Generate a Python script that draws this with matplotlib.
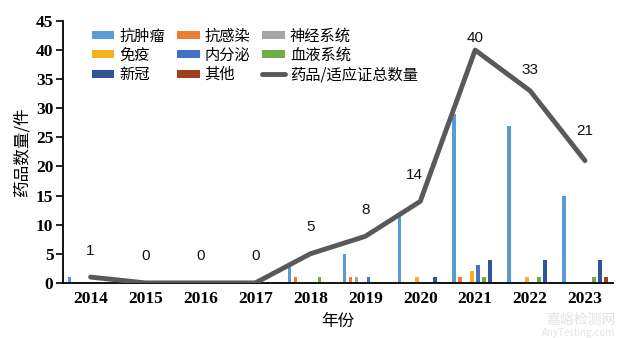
import numpy as np
import matplotlib
matplotlib.use("Agg")
import matplotlib.pyplot as plt
from matplotlib.font_manager import FontProperties

plt.rcParams["font.family"] = ["Noto Sans CJK SC", "DejaVu Sans"]

years = ["2014", "2015", "2016", "2017", "2018", "2019", "2020", "2021", "2022", "2023"]

series_names = ["抗肿瘤", "抗感染", "神经系统", "免疫", "内分泌", "血液系统", "新冠", "其他"]
series_colors = ["#5b9bd5", "#ed7d31", "#a5a5a5", "#f5b21f", "#4472c4", "#70ad47", "#2f5597", "#9e3f1e"]

antitumor   = [1, 0, 0, 0, 3, 5, 12, 29, 27, 15]
antiinfect  = [0, 0, 0, 0, 1, 1, 0, 1, 0, 0]
neuro       = [0, 0, 0, 0, 0, 1, 0, 0, 0, 0]
immune      = [0, 0, 0, 0, 0, 0, 1, 2, 1, 0]
endocrine   = [0, 0, 0, 0, 0, 1, 0, 3, 0, 0]
blood       = [0, 0, 0, 0, 1, 0, 0, 1, 1, 1]
covid       = [0, 0, 0, 0, 0, 0, 1, 4, 4, 4]
other       = [0, 0, 0, 0, 0, 0, 0, 0, 0, 1]
total       = [1, 0, 0, 0, 5, 8, 14, 40, 33, 21]

series = [antitumor, antiinfect, neuro, immune, endocrine, blood, covid, other]

LINE = "#595959"
tick_font = FontProperties(family="Liberation Serif", weight="bold", size=12.5)

fig = plt.figure(figsize=(6.25, 3.38), dpi=100)
ax = fig.add_axes([0.101, 0.163, 0.879, 0.775])

x = np.arange(len(years))
step = 0.109
width = 0.064
handles = []
for k, (name, vals, col) in enumerate(zip(series_names, series, series_colors)):
    b = ax.bar(x + (k - 3.5) * step, vals, width=width, color=col, label=name)
    handles.append(b)

ln, = ax.plot(x, total, color=LINE, linewidth=3.5, solid_capstyle="round",
              label="药品/适应证总数量", zorder=5)
handles.append(ln)

# data labels above the total line
label_gap = {40: 4, 33: 10, 21: 16}
for xi, v in zip(x, total):
    dx = -4 if v == 14 else 0
    ax.annotate(str(v), xy=(xi, v), xytext=(dx, label_gap.get(v, 14)),
                textcoords="offset points", ha="center", va="bottom",
                fontsize=11, family="Liberation Sans", color="#111111")

ax.set_xlim(-0.5, 9.5)
ax.set_ylim(0, 45)
ax.set_yticks(range(0, 46, 5))
ax.set_xticks(x)
ax.set_xticklabels(years)
for t in ax.get_xticklabels() + ax.get_yticklabels():
    t.set_fontproperties(tick_font)

ax.tick_params(axis="x", length=0, pad=6)
ax.tick_params(axis="y", length=5, width=1.2, direction="out", pad=2)
for s in ["top", "right"]:
    ax.spines[s].set_visible(False)
ax.spines["left"].set_linewidth(1.3)
ax.spines["bottom"].set_linewidth(1.3)

ax.set_ylabel("药品数量/件", fontsize=12, labelpad=4)
ax.set_xlabel("年份", fontsize=12, labelpad=4)

order = [0, 3, 6, 1, 4, 7, 2, 5, 8]
ax.legend([handles[i] for i in order],
          [handles[i].get_label() for i in order],
          ncol=3, loc="upper left", bbox_to_anchor=(0.035, 1.01),
          frameon=False, fontsize=11, handlelength=1.5, handleheight=0.45,
          handletextpad=0.3, columnspacing=0.8, labelspacing=0.15,
          borderaxespad=0.2)

fig.text(0.985, 0.055, "嘉峪检测网", ha="right", va="center", fontsize=10,
         color="#d8dde2", alpha=0.8)
fig.text(0.985, 0.0, "AnyTesting.com", ha="right", va="bottom", fontsize=7,
         style="italic", color="#d8dde2", alpha=0.8)

fig.savefig("out.png", dpi=100)
